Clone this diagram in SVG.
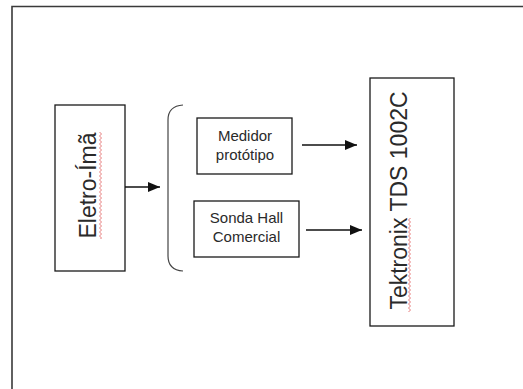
<svg xmlns="http://www.w3.org/2000/svg" width="523" height="389" viewBox="0 0 523 389">
  <style>
    .box { fill: #ffffff; stroke: #1a1a1a; stroke-width: 1.3; }
    .lbl { font-family: "Liberation Sans", Arial, sans-serif; font-size: 15px; fill: #2a2a2a; text-anchor: middle; }
    .big { font-family: "Liberation Sans", Arial, sans-serif; font-size: 23px; fill: #2a2a2a; text-anchor: middle; }
    .conn { stroke: #111111; stroke-width: 1.4; fill: none; }
  </style>
  <defs>
    <marker id="arrow" viewBox="0 0 10 10" refX="10" refY="5" markerWidth="12" markerHeight="10" markerUnits="userSpaceOnUse" orient="auto" preserveAspectRatio="none">
      <path d="M0,0 L10,5 L0,10 Z" fill="#111111"/>
    </marker>
    <pattern id="squig" x="0" y="0" width="3" height="4" patternUnits="userSpaceOnUse">
      <path d="M0.5,0 L2.5,2 L0.5,4" fill="none" stroke="#e05a5a" stroke-width="0.8"/>
    </pattern>
  </defs>
  <rect x="0" y="0" width="523" height="389" fill="#ffffff"/>
  <path d="M12,389 V6.5 H523" fill="none" stroke="#3a3a3a" stroke-width="1.6"/>

  <g id="eletro-ima">
    <rect class="box" x="55" y="105" width="70" height="166"/>
    <text class="big" transform="translate(96,185.5) rotate(-90)">Eletro-Ímã</text>
    <rect x="99" y="132" width="3" height="107" fill="url(#squig)"/>
  </g>

  <g id="brace">
    <path d="M183,105 Q168,106 168,120 V256 Q168,270 183,271" fill="none" stroke="#444444" stroke-width="1.2"/>
  </g>

  <g id="medidor">
    <rect class="box" x="197" y="118" width="95" height="56"/>
    <text class="lbl" x="245" y="141">Medidor</text>
    <text class="lbl" x="245" y="160">protótipo</text>
  </g>

  <g id="sonda">
    <rect class="box" x="194" y="201" width="105" height="56"/>
    <text class="lbl" x="246.5" y="223">Sonda Hall</text>
    <text class="lbl" x="246.5" y="242">Comercial</text>
  </g>

  <g id="tektronix">
    <rect class="box" x="370" y="78" width="84" height="248"/>
    <text class="big" transform="translate(407,200.5) rotate(-90)">Tektronix TDS 1002C</text>
    <rect x="408" y="218" width="3" height="94" fill="url(#squig)"/>
  </g>

  <g id="connectors">
    <line class="conn" x1="125" y1="187" x2="160" y2="187" marker-end="url(#arrow)"/>
    <line class="conn" x1="302" y1="145" x2="357" y2="145" marker-end="url(#arrow)"/>
    <line class="conn" x1="306" y1="230" x2="362" y2="230" marker-end="url(#arrow)"/>
  </g>
</svg>
